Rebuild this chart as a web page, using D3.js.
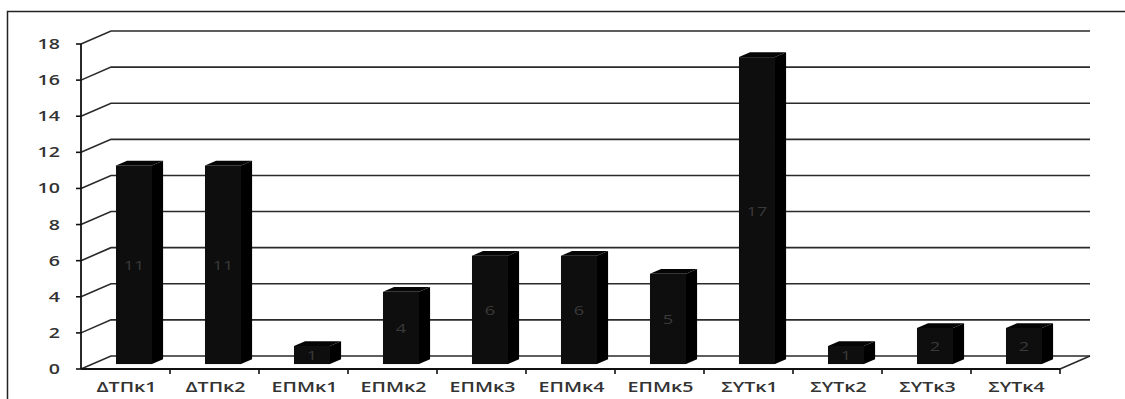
<!DOCTYPE html>
<html><head><meta charset="utf-8">
<script src="https://cdn.jsdelivr.net/npm/d3@7"></script>
<style>html,body{margin:0;padding:0;background:#fff;overflow:hidden}</style>
</head><body>
<svg id="c" width="1125" height="399"></svg>
<script>
const categories = ["ΔΤΠκ1","ΔΤΠκ2","ΕΠΜκ1","ΕΠΜκ2","ΕΠΜκ3","ΕΠΜκ4","ΕΠΜκ5","ΣΥΤκ1","ΣΥΤκ2","ΣΥΤκ3","ΣΥΤκ4"];
const values = [11,11,1,4,6,6,5,17,1,2,2];
const yTicks = [0,2,4,6,8,10,12,14,16,18];

const svg = d3.select("#c");
const W = 1125, H = 399;
const DX = 30, DY = -13;          // full depth offset of 3D box
const fFront = 0.38, fBack = 0.75; // bar depth fractions
const SX = 1.4;                    // horizontal stretch of text

const x = d3.scaleBand().domain(categories).range([81, 1060]).padding(0);
const y = d3.scaleLinear().domain([0, 18]).range([369, 44]);

// outer border
svg.append("rect").attr("x", 7.5).attr("y", 11.5).attr("width", W + 20).attr("height", H + 20)
  .attr("fill", "none").attr("stroke", "#222").attr("stroke-width", 1.5);

const g = svg.append("g");
const x0 = x.range()[0], x1 = x.range()[1];

// gridlines: diagonal from axis to back wall, then horizontal
yTicks.forEach(t => {
  g.append("path")
    .attr("d", `M${x0},${y(t)} L${x0 + DX},${y(t) + DY} L${x1 + DX},${y(t) + DY}`)
    .attr("fill", "none").attr("stroke", "#2a2a2a").attr("stroke-width", 1.6);
});
// floor right edge
g.append("path")
  .attr("d", `M${x1},${y(0)} L${x1 + DX},${y(0) + DY}`)
  .attr("fill", "none").attr("stroke", "#2a2a2a").attr("stroke-width", 1.6);

// y axis
g.append("line").attr("x1", x0).attr("x2", x0).attr("y1", y(18)).attr("y2", y(0))
  .attr("stroke", "#111").attr("stroke-width", 1.8);
yTicks.forEach(t => {
  g.append("line").attr("x1", x0 - 5).attr("x2", x0).attr("y1", y(t)).attr("y2", y(t))
    .attr("stroke", "#111").attr("stroke-width", 1.6);
  g.append("text")
    .attr("transform", `translate(60,${y(t) + 5}) scale(${SX},1)`)
    .attr("text-anchor", "end")
    .attr("font-family", "Open Sans").attr("font-weight", 600).attr("font-size", 14)
    .attr("fill", "#333").text(t);
});

// x axis front baseline and ticks
g.append("line").attr("x1", x0).attr("x2", x1).attr("y1", y(0)).attr("y2", y(0))
  .attr("stroke", "#111").attr("stroke-width", 1.8);
categories.forEach((c, i) => {
  g.append("line").attr("x1", x(c) + x.bandwidth()).attr("x2", x(c) + x.bandwidth())
    .attr("y1", y(0)).attr("y2", y(0) + 5).attr("stroke", "#111").attr("stroke-width", 1.6);
  g.append("text")
    .attr("transform", `translate(${x(c) + x.bandwidth() / 2 + 1},${y(0) + 23}) scale(${SX},1)`)
    .attr("text-anchor", "middle")
    .attr("font-family", "Open Sans").attr("font-weight", 600).attr("font-size", 14)
    .attr("fill", "#333").text(c);
});

// bars
const barW = 36;
const fdx = DX * fFront, fdy = DY * fFront;
const sdx = DX * (fBack - fFront), sdy = DY * (fBack - fFront);
categories.forEach((c, i) => {
  const v = values[i];
  const bx = x(c) + x.bandwidth() * 0.265 + fdx;
  const by0 = y(0) + fdy, by1 = y(v) + fdy;
  // front face
  g.append("rect").attr("x", bx).attr("y", by1).attr("width", barW).attr("height", by0 - by1)
    .attr("fill", "#0e0e0e");
  // side face
  g.append("path")
    .attr("d", `M${bx + barW},${by1} L${bx + barW + sdx},${by1 + sdy} L${bx + barW + sdx},${by0 + sdy} L${bx + barW},${by0} Z`)
    .attr("fill", "#000");
  // top face
  g.append("path")
    .attr("d", `M${bx},${by1} L${bx + sdx},${by1 + sdy} L${bx + barW + sdx},${by1 + sdy} L${bx + barW},${by1} Z`)
    .attr("fill", "#050505");
  // value label
  g.append("text")
    .attr("transform", `translate(${bx + barW / 2},${(by0 + by1) / 2 + 5}) scale(${SX},1)`)
    .attr("text-anchor", "middle")
    .attr("font-family", "Open Sans").attr("font-size", 13)
    .attr("fill", "#3a3a3a").text(v);
});
</script>
</body></html>
